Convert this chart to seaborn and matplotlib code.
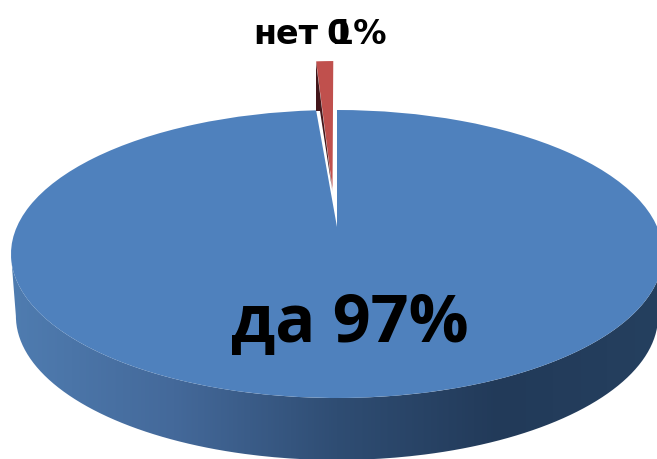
import numpy as np
import matplotlib.pyplot as plt
from matplotlib.colors import LinearSegmentedColormap
from matplotlib.patches import PathPatch
from matplotlib.path import Path
import seaborn as sns

labels = ['да', 'нет']
values = [97, 1]
pct_labels = ['да 97%', 'нет', '1%', '0']

W, H = 657, 460
CX, CY, RX, RY = 337, 255, 326, 144
DEPTH = 62

def px(x, y):
    # picture pixels to pie units
    return (x - CX) / RX, (CY - y) / RY

def move_apex(wedge, apex, squeeze=1.0):
    # tilted pie: the centre of a slice is not in the middle of the ellipse
    path = wedge.get_path()
    verts = path.vertices.copy()
    near = np.isclose(verts[:, 0], wedge.center[0]) & np.isclose(verts[:, 1], wedge.center[1])
    verts[near] = apex
    verts[~near, 0] = apex[0] + (verts[~near, 0] - apex[0]) * squeeze
    path.vertices = verts

sns.set_theme(style='white')
colors = sns.color_palette(['#4f81bd', '#c0504d'])

fig = plt.figure(figsize=(W / 100, H / 100), dpi=100)
ax = fig.add_axes([0, 0, 1, 1])

wedges, _ = ax.pie(values, colors=colors, startangle=90, counterclock=False,
                   explode=[0, 0.34], radius=1, center=(0, 0),
                   wedgeprops={'linewidth': 0, 'edgecolor': 'none'})
ax.set_aspect('auto')
ax.axis('off')

move_apex(wedges[0], px(337, 228))
move_apex(wedges[1], px(332.5, 190), squeeze=0.82)
wedges[0].set_zorder(3)
wedges[1].set_zorder(2)

# side wall of the disc with its gradient
theta = np.linspace(np.pi, 2 * np.pi, 200)
edge_x = np.cos(theta)
edge_y = np.sin(theta)
wall = np.vstack([np.column_stack([edge_x, edge_y]),
                  np.column_stack([edge_x[::-1] * 0.985, edge_y[::-1] - DEPTH / RY])])
wall_cmap = LinearSegmentedColormap.from_list('wall', ['#4f7cb0', '#44699a', '#2f4d73', '#223a59', '#25405f'])
img = ax.imshow(np.linspace(0, 1, 256).reshape(1, -1), cmap=wall_cmap, aspect='auto', zorder=1,
                extent=[-1, 1, px(0, H)[1], 0.1])
img.set_clip_path(PathPatch(Path(wall), transform=ax.transData))
ax.set_xlim(px(0, 0)[0], px(W, 0)[0])
ax.set_ylim(px(0, H)[1], px(0, 0)[1])

# dark inner cut of the pulled out slice
dark_x, dark_y = zip(*[px(316, 63), px(316, 112), px(320, 112), px(332.5, 193)])
ax.fill(dark_x, dark_y, color='#43161a', lw=0, zorder=4)

ax.text(*px(350, 325), pct_labels[0], fontsize=48, fontweight='bold', family='Open Sans',
        color='black', ha='center', va='center', zorder=5)
top_font = dict(fontsize=24, fontweight='bold', family='DejaVu Sans', color='black', va='center', zorder=5)
ax.text(*px(253, 34), pct_labels[1], ha='left', **top_font)
ax.text(*px(387, 34), pct_labels[2], ha='right', **top_font)
ax.text(*px(338, 34), pct_labels[3], ha='center', **top_font)

plt.savefig('out.png', dpi=100)
